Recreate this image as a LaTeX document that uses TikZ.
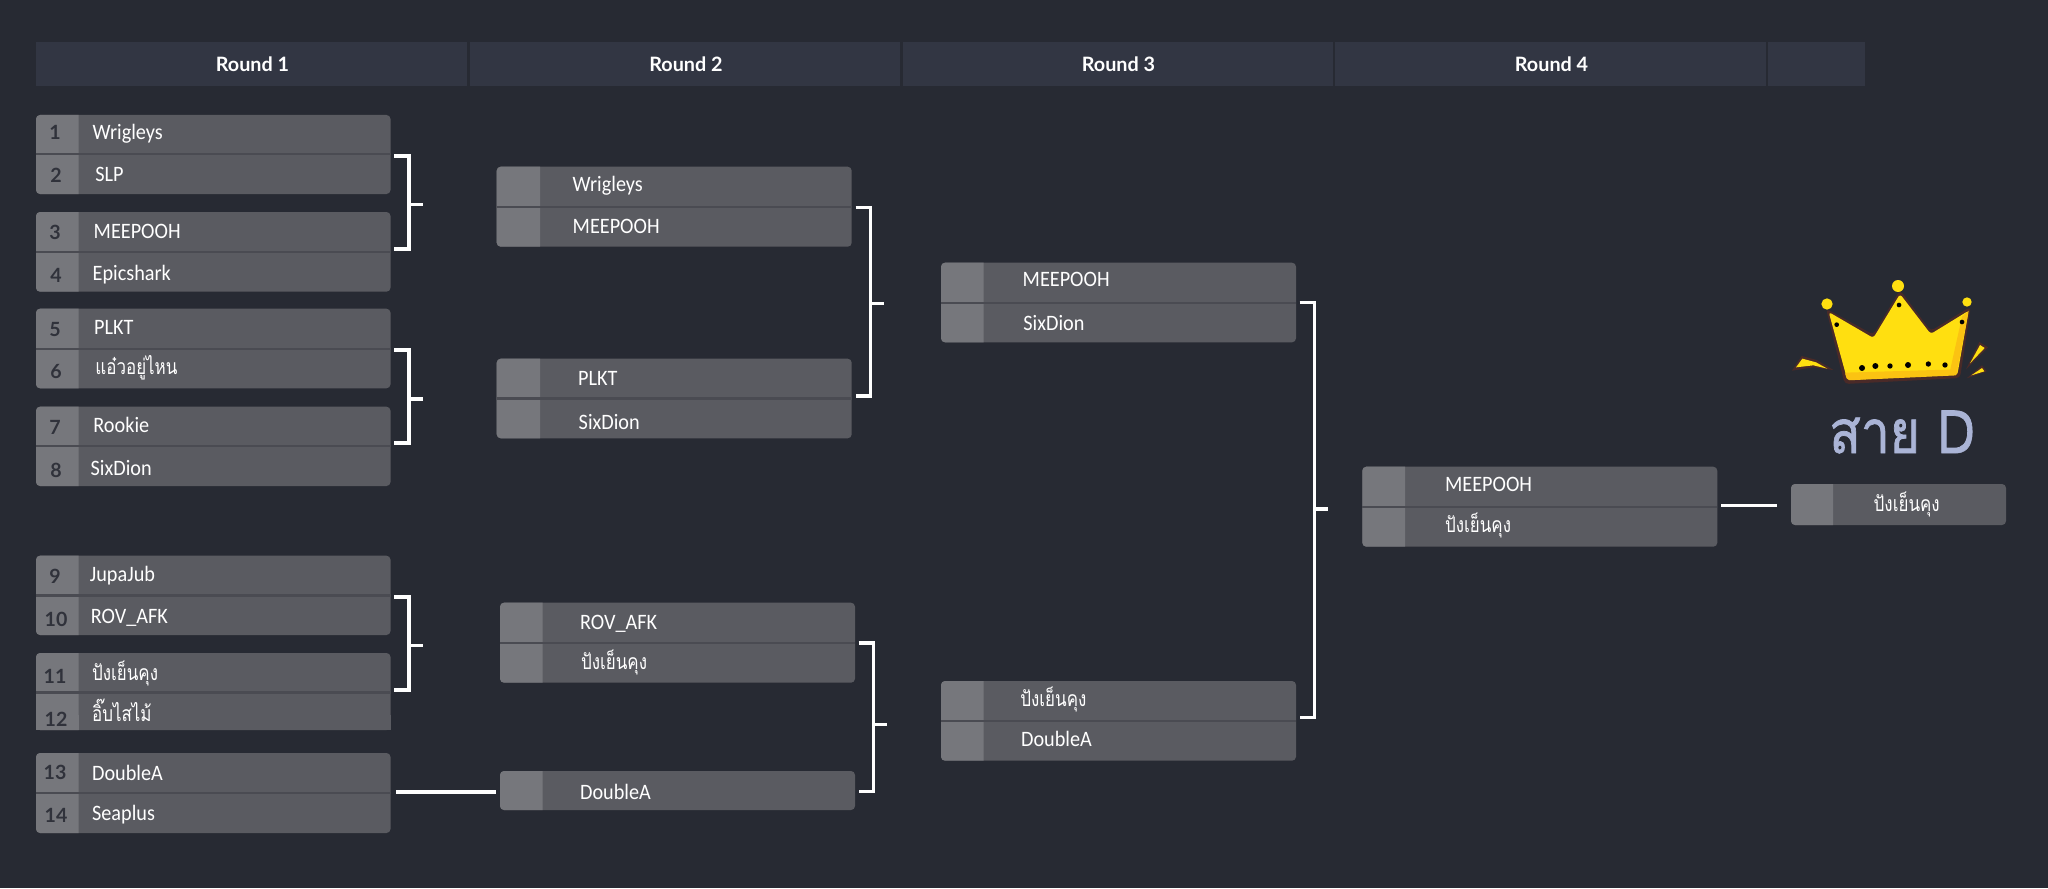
\documentclass[tikz,border=0pt]{standalone}
\usepackage{fontspec}
\usetikzlibrary{calc}
\setmainfont{Lato}
\newfontfamily\thaifont[Script=Thai,FakeStretch=0.8]{Loma}
\newfontfamily\titlefont[Script=Thai,FakeStretch=0.86,FakeBold=1.2]{Loma}
\newfontfamily\teamfont[FakeStretch=0.92]{Carlito}
\newfontfamily\headfont{Lato}[BoldFont={Lato Bold}]
\definecolor{bgc}{HTML}{272A33}
\definecolor{headc}{HTML}{323643}
\definecolor{boxc}{HTML}{5A5B61}
\definecolor{seedc}{HTML}{76777C}
\definecolor{divc}{HTML}{4A4B52}
\definecolor{numc}{HTML}{30323B}
\definecolor{crownc}{HTML}{FFDF10}
\definecolor{banc}{HTML}{FBC312}
\definecolor{edgec}{HTML}{4A2A28}
\definecolor{titlec}{HTML}{AAB4D6}
\newcommand\headtext[1]{\raisebox{-0.5pt}{\hspace{1pt}#1}}
\tikzset{
  x=0.5pt,y=-0.5pt,
  head/.style={fill=headc,inner sep=0pt,minimum height=22pt,font=\headfont\bfseries\fontsize{9.9}{11}\selectfont,text=white},
  matchbox/.style={fill=boxc,inner sep=0pt,rounded corners=2pt,draw=none},
  team/.style={anchor=base west,inner sep=0pt,text=white,font=\teamfont\fontsize{11}{12}\selectfont},
  tteam/.style={anchor=base west,inner sep=0pt,text=white,font=\thaifont\fontsize{10.6}{12}\selectfont},
  seednum/.style={anchor=base,inner sep=0pt,text=numc,font=\bfseries\fontsize{9.8}{12}\selectfont},
  conn/.style={draw=white,line width=1.6pt,line join=miter},
}
% name, x1, x2, seedx, top, mid, bottom
\newcommand\matchgroup[7]{%
  \node[matchbox,minimum width={(#3-#2)*0.5pt},minimum height={(#7-#5)*0.5pt}] (#1) at ({(#2+#3)/2},{(#5+#7)/2}) {};
  \fill[seedc] (#4,#5) [rounded corners=2pt] -- (#2,#5) -- (#2,#7) [sharp corners] -- (#4,#7) -- cycle;
  \draw[divc,line width=1.2pt] (#2,#6) -- (#3,#6);
}
\newcommand\singlegroup[6]{%
  \node[matchbox,minimum width={(#3-#2)*0.5pt},minimum height={(#6-#5)*0.5pt}] (#1) at ({(#2+#3)/2},{(#5+#6)/2}) {};
  \fill[seedc] (#4,#5) [rounded corners=2pt] -- (#2,#5) -- (#2,#6) [sharp corners] -- (#4,#6) -- cycle;
}
% a, dya, b, dyb, gap, join, tick, dytick
\newcommand\bracketlink[8]{%
  \draw[conn] ($(#1.east)+(#5,#2)$) -- ++(#6,0) |- ($(#3.east)+(#5,#4)$);
  \draw[conn] ($(#1.east)!.5!(#3.east)+(#5+#6,#8)$) -- ++(#7,0);
}
\begin{document}
\begin{tikzpicture}
\useasboundingbox (0,0) rectangle (2048,888);
\fill[bgc] (0,0) rectangle (2048,888);
% headers
\node[head,minimum width=215.5pt] (h1) at (251.5,64) {\headtext{Round 1}};
\node[head,minimum width=215pt] (h2) at (685,64) {\headtext{Round 2}};
\node[head,minimum width=215pt] (h3) at (1117.5,64) {\headtext{Round 3}};
\node[head,minimum width=215.5pt] (h4) at (1550.5,64) {\headtext{Round 4}};
\node[head,minimum width=48.5pt] (h5) at (1816.5,64) {};
% Round 1
\matchgroup{ra}{36}{390.5}{78.5}{115}{154}{194}
\matchgroup{rb}{36}{390.5}{78.5}{212}{252}{291.7}
\matchgroup{rc}{36}{390.5}{78.5}{308.7}{348.7}{388.3}
\matchgroup{rd}{36}{390.5}{78.5}{406.7}{446}{486}
\matchgroup{re}{36}{390.5}{78.5}{555.7}{595.3}{635}
\matchgroup{rf}{36}{390.5}{78.5}{653}{692.5}{730}
\fill[boxc] (78.5,715) rectangle (390.5,730);
\fill[seedc] (36,715) rectangle (78.5,730);
\matchgroup{rg}{36}{390.5}{78.5}{753}{793}{833}
% Round 2
\matchgroup{sa}{496.7}{851.7}{540}{166.7}{206.7}{246.7}
\matchgroup{sb}{496.7}{851.7}{540}{358.7}{398.3}{438.3}
\matchgroup{sc}{500}{855}{542.7}{602.7}{642.7}{682.7}
\singlegroup{sd}{500}{855}{542.7}{771}{810}
% Round 3
\matchgroup{ta}{941}{1296}{983.7}{262.7}{302.7}{342.3}
\matchgroup{tb}{941}{1296}{983.7}{681}{721}{760.7}
% Round 4
\matchgroup{ua}{1362.3}{1717.3}{1405}{466.7}{506.7}{546.7}
% Winner
\singlegroup{wa}{1791}{2006}{1833}{484}{525}
% connectors
\bracketlink{ra}{1.5}{rb}{-2.85}{3.5}{14.5}{14.2}{1}
\bracketlink{rc}{1.5}{rd}{-3.35}{3.5}{14.5}{14.2}{1.6}
\bracketlink{re}{1.65}{rf}{-1.5}{3.5}{14.5}{14.2}{2}
\bracketlink{sa}{.6}{sb}{-2.5}{3.6}{14.7}{14}{.7}
\bracketlink{sc}{.3}{sd}{1.2}{3.3}{15}{13.4}{8.1}
\bracketlink{ta}{.2}{tb}{-3.15}{3.3}{14.7}{14}{-2.7}
\draw[conn] ($(rg.east)+(5.5,-1)$) -- ($(sd.west)+(-4,1.5)$);
\draw[conn] ($(ua.east)+(3.4,-1.4)$) -- ($(wa.west)+(-13.7,.8)$);
% seed numbers
\node[seednum] (n1) at (55,140) {1};
\node[seednum] (n2) at (56,182) {2};
\node[seednum] (n3) at (55,239) {3};
\node[seednum] (n4) at (56,282) {4};
\node[seednum] (n5) at (55,336) {5};
\node[seednum] (n6) at (56,378) {6};
\node[seednum] (n7) at (55,434) {7};
\node[seednum] (n8) at (56,477) {8};
\node[seednum] (n9) at (55,583) {9};
\node[seednum] (n10) at (56,626) {10};
\node[seednum] (n11) at (55,683) {11};
\node[seednum] (n12) at (56,726) {12};
\node[seednum] (n13) at (55,779) {13};
\node[seednum] (n14) at (56,822) {14};
% Round 1 teams
\node[team] (t1) at (92.3,140) {Wrigleys};
\node[team] (t2) at (95,181.7) {SLP};
\node[team] (t3) at (93.3,238.3) {MEEPOOH};
\node[team] (t4) at (92.3,280.7) {Epicshark};
\node[team] (t5) at (93.7,334.3) {PLKT};
\node[tteam] (t6) at (95,374.3) {แอ๋วอยู่ไหน};
\node[team] (t7) at (93,432.7) {Rookie};
\node[team] (t8) at (90.3,475) {SixDion};
\node[team] (t9) at (89.5,581.7) {JupaJub};
\node[team] (t10) at (90.5,623.3) {ROV\_AFK};
\node[tteam] (t11) at (91.7,680.7) {ปังเย็นคุง};
\node[tteam] (t12) at (91.7,721.7) {อิ๊บไสไม้};
\node[team] (t13) at (91.7,780) {DoubleA};
\node[team] (t14) at (91.7,820) {Seaplus};
% Round 2 teams
\node[team] (u1) at (572.3,191.7) {Wrigleys};
\node[team] (u2) at (572.3,233.7) {MEEPOOH};
\node[team] (u3) at (577.7,385) {PLKT};
\node[team] (u4) at (578.3,429) {SixDion};
\node[team] (u5) at (579.7,629) {ROV\_AFK};
\node[tteam] (u6) at (580.7,669) {ปังเย็นคุง};
\node[team] (u7) at (579.7,799) {DoubleA};
% Round 3 teams
\node[team] (v1) at (1022.3,286.7) {MEEPOOH};
\node[team] (v2) at (1023,330) {SixDion};
\node[tteam] (v3) at (1020,706.7) {ปังเย็นคุง};
\node[team] (v4) at (1020.7,746.7) {DoubleA};
% Round 4 teams
\node[team] (w1) at (1444.7,491.7) {MEEPOOH};
\node[tteam] (w2) at (1444.7,532.7) {ปังเย็นคุง};
% Winner
\node[tteam] (w3) at (1873.3,511.7) {ปังเย็นคุง};
% Title
\node[inner sep=0pt,text=titlec,font=\titlefont\fontsize{30}{32}\selectfont] (title) at (1902,432) {สาย D};
% Crown
\begin{scope}[shift={(1750,250)},scale=0.33333]
  \fill[edgec,rounded corners=2pt] (228,176) -- (370,254) -- (450,120) -- (542,243) -- (662,170) -- (630,384) -- (284,402) -- cycle;
  \fill[crownc,rounded corners=1.5pt] (236,186) -- (370,264) -- (450,132) -- (542,252) -- (656,182) -- (622,374) -- (292,390) -- cycle;
  \fill[banc,rounded corners=1pt] (284,368) -- (623,358) -- (622,376) -- (292,391) -- cycle;
  \fill[banc] (656,182) -- (622,360) -- (600,362) -- (636,200) -- cycle;
  \fill[crownc] (231,162) circle (17);
  \fill[crownc] (444,108) circle (18);
  \fill[crownc] (651,156) circle (14);
  \foreach \px/\py/\pr in {260/224/7,447/165/7,636/216/7,336/354/9,376/348/9,420/348/8,474/345/9,535/342/8,585/345/8}
    \fill[black] (\px,\py) circle (\pr);
  \fill[edgec] (126,362) -- (155,318) -- (200,330) -- (250,360) -- (190,352) -- cycle;
  \fill[crownc] (138,352) -- (157,326) -- (198,337) -- (232,356) -- (190,346) -- cycle;
  \fill[edgec] (648,358) -- (688,276) -- (714,292) -- cycle;
  \fill[crownc] (660,340) -- (690,285) -- (704,294) -- cycle;
  \fill[edgec] (650,385) -- (696,346) -- (710,364) -- cycle;
  \fill[crownc] (664,376) -- (696,354) -- (703,364) -- cycle;
\end{scope}
\end{tikzpicture}
\end{document}
